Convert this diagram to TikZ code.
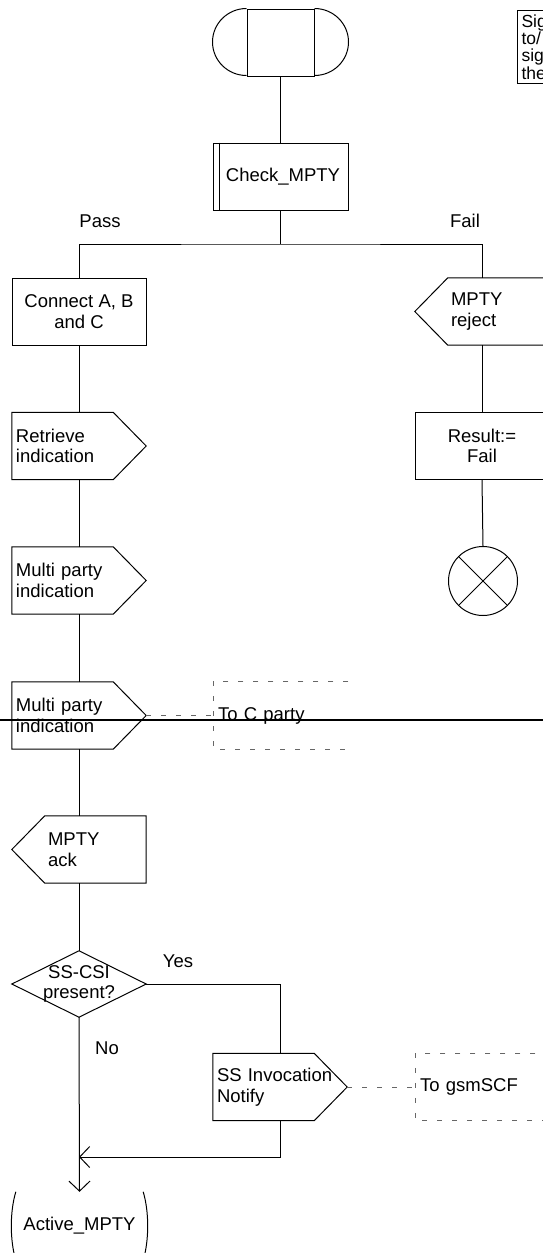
\documentclass[tikz,border=0pt]{standalone}
\usepackage{fontspec}
\setmainfont{Liberation Sans}
\usetikzlibrary{arrows.meta,calc}

% outline of an output signal (point on the right)
\newcommand\sigoutline[1]{%
  \draw[ln] (#1.north west) -- ([xshift=-33pt]#1.north east) -- (#1.east)
    -- ([xshift=-33pt]#1.south east) -- (#1.south west) -- cycle;}
% outline of an input signal (notch on the left)
\newcommand\siginline[1]{%
  \draw[ln] (#1.west) -- ([xshift=33pt]#1.north west) -- (#1.north east)
    -- (#1.south east) -- ([xshift=33pt]#1.south west) -- cycle;}

\begin{document}
\begin{tikzpicture}[x=1pt,y=-1pt,
  every node/.style={font=\fontsize{18.5}{20.7}\selectfont, inner sep=0pt},
  ln/.style={line width=1pt},
  blk/.style={draw, line width=1pt, minimum width=134pt, minimum height=67pt, align=center},
  outsig/.style={minimum width=134pt, minimum height=67pt, text width=126pt, align=left},
  insig/.style={minimum width=134pt, minimum height=67pt, text width=62pt, align=left},
  extbox/.style={minimum height=67pt, text width=125pt, inner xsep=5pt, align=left, anchor=west},
  dsh/.style={draw=black!60, line width=0.8pt, dash pattern=on 5pt off 10pt},
  arr/.style={-{Straight Barb[length=10pt,width=21pt,line width=1pt]}}
]
\useasboundingbox (0,0) rectangle (543,1253);
\begin{scope}
\clip (0,0) rectangle (543,1253);

% start symbol
\node[draw, ln, minimum width=67pt, minimum height=67pt] (st) at (280.5,42.5) {};
\draw[ln] (st.north west) arc (270:90:34 and 33.5);
\draw[ln] (st.north east) arc (-90:90:34 and 33.5);

% comment box
\node[draw, ln, anchor=north west, align=left, text width=60pt, inner sep=4pt,
      font=\fontsize{17.5}{17.3}\selectfont] (cm) at (517,10) {Sig\\to/\\sig\\the};

% procedure call
\node[blk, minimum width=135pt] (chk) at (280.5,176.5) {\hspace*{5pt}Check\_MPTY};
\draw[ln] ([xshift=7pt]chk.north west) -- ([xshift=7pt]chk.south west);
\coordinate (br) at (280.5,244);
\node (pass) at (100,221) {Pass};
\node (fail) at (465,221) {Fail};

% left column
\node[blk] (conn) at (79,311.5) {Connect A, B\\and C};
\node[outsig] (ret) at (79,446) {Retrieve\\indication};
\sigoutline{ret}
\node[outsig] (m1) at (79,580.5) {Multi party\\indication};
\sigoutline{m1}
\node[outsig] (m2) at (79,715.5) {Multi party\\indication};
\sigoutline{m2}
\node[insig] (ack) at (79,849.5) {MPTY\\ack};
\siginline{ack}
\node[minimum width=134pt, minimum height=66pt, align=center] (dec) at (79,984) {SS-CSI\\present?};
\draw[ln] (dec.north) -- (dec.east) -- (dec.south) -- (dec.west) -- cycle;
\node (yes) at (178,961) {Yes};
\node (no) at (107,1048) {No};
\node[outsig] (ssi) at (280,1087) {SS Invocation\\Notify};
\sigoutline{ssi}
\coordinate (merge) at (79,1157);
\node[minimum width=127pt, minimum height=68pt] (am) at (79.5,1226) {Active\_MPTY};
\draw[ln] (am.north west) .. controls +(-6,20) and +(-6,-20) .. (am.south west);
\draw[ln] (am.north east) .. controls +(6,20) and +(6,-20) .. (am.south east);

% right column
\node[insig] (rej) at (482,311.5) {MPTY\\reject};
\siginline{rej}
\node[blk] (res) at (482,446) {Result:=\\Fail};
\node[circle, draw, ln, minimum size=69pt] (stop) at (483,581) {};
\draw[ln] (stop.north west) -- (stop.south east);
\draw[ln] (stop.north east) -- (stop.south west);

% text extensions
\node[extbox] (tcb) at (213,715.5) {To C party};
\draw[dsh] (tcb.north east) -- (tcb.north west) -- (tcb.south west) -- (tcb.south east);
\node[extbox] (gsb) at (415,1087) {To gsmSCF};
\draw[dsh] (gsb.north east) -- (gsb.north west) -- (gsb.south west) -- (gsb.south east);
\draw[dsh] (m2.east) -- (tcb.west);
\draw[dsh] (ssi.east) -- (gsb.west);

% flow lines
\draw[ln] (st.south) -- (chk.north);
\draw[ln] (chk.south) -- (br);
\draw[ln] (conn.north) |- (br) -| (rej.north);
\draw[ln] (conn.south) -- (ret.north);
\draw[ln] (ret.south) -- (m1.north);
\draw[ln] (m1.south) -- (m2.north);
\draw[ln] (m2.south) -- (ack.north);
\draw[ln] (ack.south) -- (dec.north);
\draw[ln] (dec.east) -| (ssi.north);
\draw[ln, arr] (ssi.south) |- (merge);
\draw[ln, arr] (dec.south) -- (am.north);
\draw[ln] (rej.south) -- (res.north);
\draw[ln] (res.south) -- (stop.north);

% full-width rule
\draw[line width=1.8pt] (0,720) -- (543,720);
\end{scope}
\end{tikzpicture}
\end{document}
